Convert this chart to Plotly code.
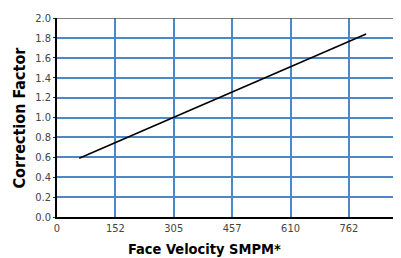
import plotly.graph_objects as go

# Data
velocity = [58, 305, 807]
correction = [0.59, 1.0, 1.84]
x_tick_vals = [0, 152.4, 304.8, 457.2, 609.6, 762]
x_tick_text = ["0", "152", "305", "457", "610", "762"]
y_tick_vals = [0.0, 0.2, 0.4, 0.6, 0.8, 1.0, 1.2, 1.4, 1.6, 1.8, 2.0]
y_tick_text = ["0.0", "0.2", "0.4", "0.6", "0.8", "1.0", "1.2", "1.4", "1.6", "1.8", "2.0"]
x_title = "Face Velocity SMPM*"
y_title = "Correction Factor"

narrow = "DejaVu Sans Condensed, Liberation Sans Narrow, Arial Narrow, sans-serif"
tick_font = dict(family=narrow, size=11, color="#444444")
grid_color = "#4b87c9"

fig = go.Figure()
fig.add_trace(go.Scatter(x=velocity, y=correction, mode="lines",
                         line=dict(color="black", width=1.6), showlegend=False))

fig.update_layout(
    width=393, height=250,
    margin=dict(l=49, r=0, t=10, b=41),
    paper_bgcolor="white", plot_bgcolor="white",
    xaxis=dict(range=[0, 898], tickvals=x_tick_vals, ticktext=x_tick_text,
               showgrid=True, gridcolor=grid_color, gridwidth=1.5,
               showline=True, linecolor="black", linewidth=1.5,
               ticks="", tickfont=tick_font, zeroline=False),
    yaxis=dict(range=[0, 2.0], tickvals=y_tick_vals, ticktext=y_tick_text,
               showgrid=True, gridcolor=grid_color, gridwidth=1.5,
               showline=True, linecolor="black", linewidth=1.5,
               ticks="outside", ticklen=2, tickcolor="#333333",
               tickfont=tick_font, zeroline=False),
)
fig.add_annotation(text="<b>" + x_title + "</b>", xref="paper", yref="paper",
                   x=0.430, y=0, xanchor="center", yanchor="middle", yshift=-32,
                   showarrow=False, font=dict(family=narrow, size=14.5, color="black"))
fig.add_annotation(text="<b>" + y_title + "</b>", xref="paper", yref="paper",
                   x=0, y=0.5, xanchor="center", yanchor="middle", xshift=-38,
                   textangle=-90, showarrow=False,
                   font=dict(family=narrow, size=16, color="black"))
fig.add_shape(type="line", xref="paper", yref="y", x0=0, x1=1, y0=2.0, y1=2.0,
              line=dict(color="#555555", width=1.5))

fig.write_html("out.html")
